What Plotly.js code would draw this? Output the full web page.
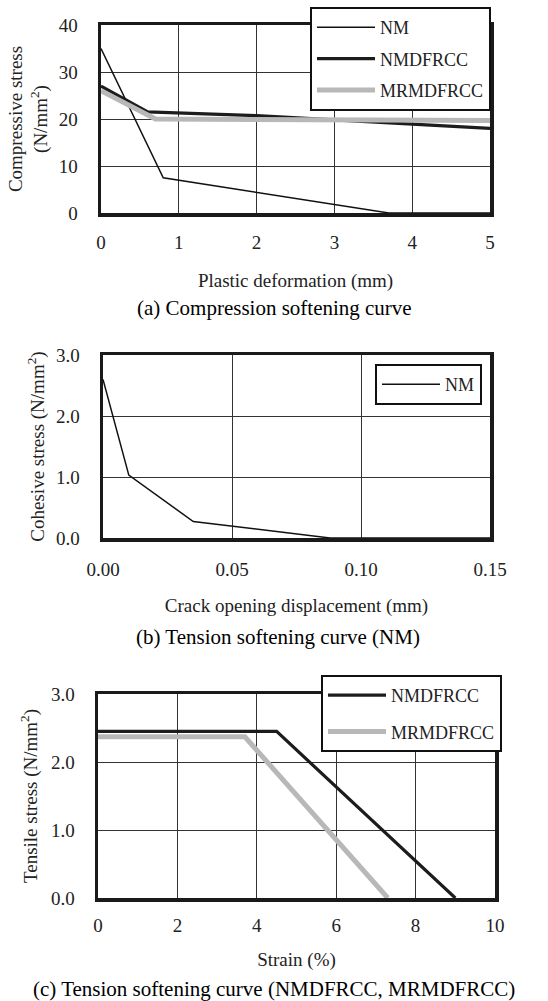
<!DOCTYPE html>
<html>
<head>
<meta charset="utf-8">
<script src="https://cdn.plot.ly/plotly-3.0.1.min.js"></script>
<style>html,body{margin:0;padding:0;background:#fff;}#chart{width:548px;height:1001px;}</style>
</head>
<body>
<div id="chart"></div>
<script>
// (a) Compression softening curve
const aNM_x = [0, 0.8, 3.7, 5];
const aNM_y = [35, 7.5, 0, 0];
const aNMD_x = [0, 0.6, 2, 5];
const aNMD_y = [27, 21.5, 20.7, 18];
const aMRM_x = [0, 0.7, 5];
const aMRM_y = [26, 20, 19.7];
const aXTicks = [0, 1, 2, 3, 4, 5];
const aYTicks = [0, 10, 20, 30, 40];

// (b) Tension softening curve (NM)
const bNM_x = [0, 0.01, 0.035, 0.088, 0.15];
const bNM_y = [2.6, 1.03, 0.27, 0, 0];
const bXTicks = [0, 0.05, 0.10, 0.15];
const bXLabels = ['0.00', '0.05', '0.10', '0.15'];
const bYTicks = [0, 1, 2, 3];
const bYLabels = ['0.0', '1.0', '2.0', '3.0'];

// (c) Tension softening curve (NMDFRCC, MRMDFRCC)
const cNMD_x = [0, 4.5, 9];
const cNMD_y = [2.45, 2.45, 0];
const cMRM_x = [0, 3.7, 7.3];
const cMRM_y = [2.37, 2.37, 0];
const cXTicks = [0, 2, 4, 6, 8, 10];
const cYTicks = [0, 1, 2, 3];
const cYLabels = ['0.0', '1.0', '2.0', '3.0'];

const FONT = 'Liberation Serif, Times New Roman, serif';
const W = 548, H = 1001;
const px = v => v / W;
const py = v => 1 - v / H;

const sNM = {color: '#111', width: 1.5};
const sNMD = {color: '#1c1c1c', width: 3.2};
const sMRM = {color: '#b8b8b8', width: 5};

const traces = [
  {x: aNM_x, y: aNM_y, name: 'NM', mode: 'lines', line: sNM, xaxis: 'x', yaxis: 'y', legend: 'legend', legendgroup: 'a1'},
  {x: aNMD_x, y: aNMD_y, name: 'NMDFRCC', mode: 'lines', line: sNMD, xaxis: 'x', yaxis: 'y', legend: 'legend', legendgroup: 'a2'},
  {x: aMRM_x, y: aMRM_y, name: 'MRMDFRCC', mode: 'lines', line: sMRM, xaxis: 'x', yaxis: 'y', legend: 'legend', legendgroup: 'a3'},
  {x: bNM_x, y: bNM_y, name: 'NM', mode: 'lines', line: sNM, xaxis: 'x2', yaxis: 'y2', legend: 'legend2', legendgroup: 'b1'},
  {x: cNMD_x, y: cNMD_y, name: 'NMDFRCC', mode: 'lines', line: sNMD, xaxis: 'x3', yaxis: 'y3', legend: 'legend3', legendgroup: 'c1'},
  {x: cMRM_x, y: cMRM_y, name: 'MRMDFRCC', mode: 'lines', line: sMRM, xaxis: 'x3', yaxis: 'y3', legend: 'legend3', legendgroup: 'c2'}
];

const tickFont = {family: FONT, size: 19, color: '#222'};
const titleFont = {family: FONT, size: 19, color: '#222'};

function xax(domain, anchor, range, tickvals, ticktext, title, standoff, lblOff) {
  return {
    domain: domain, anchor: anchor, range: range, tickvals: tickvals, ticktext: ticktext,
    showgrid: true, gridcolor: '#333', gridwidth: 1, zeroline: false,
    showline: true, mirror: true, linecolor: '#1a1a1a', linewidth: 3.5,
    ticks: '', ticklabelstandoff: lblOff, tickfont: tickFont,
    title: {text: title, font: titleFont, standoff: standoff},
    automargin: false, fixedrange: true
  };
}
function yax(domain, anchor, range, tickvals, ticktext, title, standoff) {
  return {
    domain: domain, anchor: anchor, range: range, tickvals: tickvals, ticktext: ticktext,
    showgrid: true, gridcolor: '#333', gridwidth: 1, zeroline: false,
    showline: true, mirror: true, linecolor: '#1a1a1a', linewidth: 3.5,
    ticks: '', ticklabelstandoff: 16, tickfont: tickFont,
    title: {text: title, font: titleFont, standoff: standoff},
    automargin: false, fixedrange: true
  };
}

const legStyle = {
  font: {family: FONT, size: 18, color: '#222'},
  bgcolor: '#fff', bordercolor: '#111', borderwidth: 2,
  xanchor: 'left', yanchor: 'top', itemwidth: 58
};

const capFont = {family: FONT, size: 21, color: '#000'};

const layout = {
  width: W, height: H,
  margin: {l: 0, r: 0, t: 0, b: 0},
  paper_bgcolor: '#fff', plot_bgcolor: '#fff',
  showlegend: true,
  xaxis: xax([px(101), px(490)], 'y', [0, 5], aXTicks, aXTicks.map(String), 'Plastic deformation (mm)', 22, 10),
  yaxis: yax([py(213), py(25)], 'x', [0, 40], aYTicks, aYTicks.map(String), 'Compressive stress<br>(N/mm<sup>2</sup>)', 7),
  xaxis2: xax([px(103), px(490)], 'y2', [0, 0.15], bXTicks, bXLabels, 'Crack opening displacement (mm)', 20, 12),
  yaxis2: yax([py(538), py(355)], 'x2', [0, 3], bYTicks, bYLabels, 'Cohesive stress (N/mm<sup>2</sup>)', 7),
  xaxis3: xax([px(98), px(495)], 'y3', [0, 10], cXTicks, cXTicks.map(String), 'Strain (%)', 18, 8),
  yaxis3: yax([py(898), py(694)], 'x3', [0, 3], cYTicks, cYLabels, 'Tensile stress (N/mm<sup>2</sup>)', 9),
  legend: Object.assign({}, legStyle, {x: px(310), y: py(7), tracegroupgap: 5}),
  legend2: Object.assign({}, legStyle, {x: px(375), y: py(364), tracegroupgap: 0}),
  legend3: Object.assign({}, legStyle, {x: px(321), y: py(675), tracegroupgap: 10}),
  annotations: [
    {text: '(a) Compression softening curve', x: px(274), y: py(308), xref: 'paper', yref: 'paper', showarrow: false, font: capFont, xanchor: 'center', yanchor: 'middle'},
    {text: '(b) Tension softening curve (NM)', x: px(278), y: py(637), xref: 'paper', yref: 'paper', showarrow: false, font: capFont, xanchor: 'center', yanchor: 'middle'},
    {text: '(c) Tension softening curve (NMDFRCC, MRMDFRCC)', x: px(274), y: py(989), xref: 'paper', yref: 'paper', showarrow: false, font: capFont, xanchor: 'center', yanchor: 'middle'}
  ]
};

Plotly.newPlot('chart', traces, layout, {displayModeBar: false, staticPlot: true});
</script>
</body>
</html>
